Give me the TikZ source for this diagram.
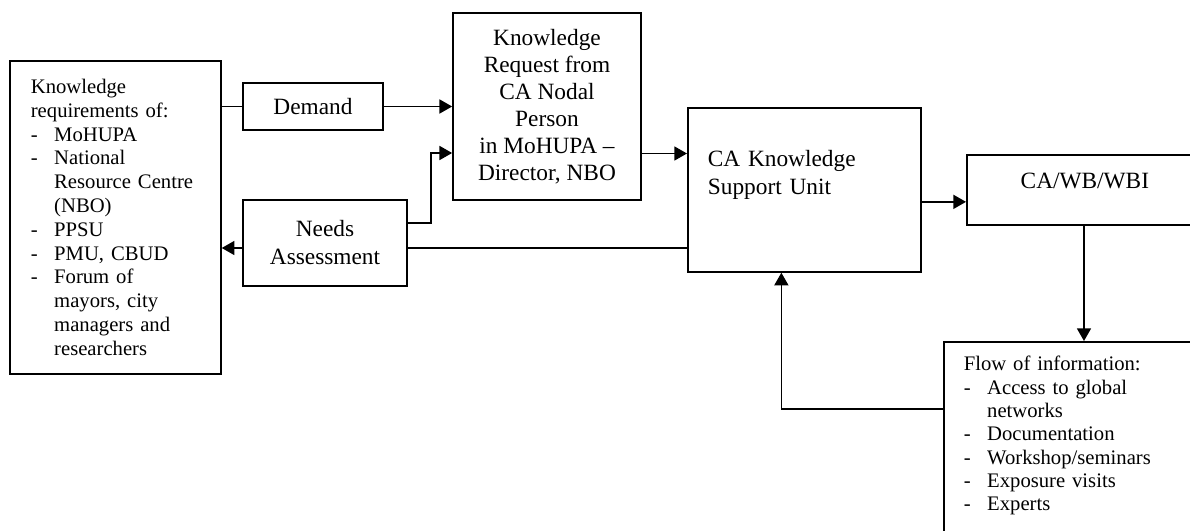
\documentclass[tikz,border=0pt]{standalone}
\usepackage{fontspec}
\setmainfont{Liberation Serif}
\usetikzlibrary{arrows.meta}
\newcommand\dashitem{\makebox[17.5pt][l]{-}}
\newcommand\contitem{\hspace*{17.5pt}}
\tikzset{
  box/.style={draw, line width=1.3pt, rectangle},
  conn/.style={line width=1.3pt},
  arr/.style={line width=1.3pt, -{Triangle[length=9.5pt,width=10.5pt]}},
}
\begin{document}
\begin{tikzpicture}[x=0.75pt,y=-0.75pt]
\useasboundingbox (0,0) rectangle (1190,531);
\clip (0,0) rectangle (1190,531);
% boxes
\node[box, anchor=north west, text width=126.75pt, inner xsep=15.75pt, minimum height=234.75pt,
  align=left, font=\fontsize{15.5pt}{17.85pt}\selectfont] (L) at (9,60)
  {Knowledge\\
   requirements of:\\
   \dashitem MoHUPA\\
   \dashitem National\\
   \contitem Resource Centre\\
   \contitem (NBO)\\
   \dashitem PPSU\\
   \dashitem PMU, CBUD\\
   \dashitem Forum of\\
   \contitem mayors, city\\
   \contitem managers and\\
   \contitem researchers};
\node[box, minimum width=105pt, minimum height=35.25pt, inner sep=0pt,
  font=\fontsize{17.5pt}{20pt}\selectfont] (D) at (313,106.5) {Demand};
\node[box, minimum width=123pt, minimum height=64.5pt, inner sep=0pt, align=center,
  font=\fontsize{17.5pt}{21pt}\selectfont] (N) at (325,243) {Needs\\Assessment};
\node[box, minimum width=141pt, minimum height=140.25pt, inner sep=0pt, align=center,
  font=\fontsize{17.5pt}{20.25pt}\selectfont] (KR) at (547,106.5)
  {Knowledge\\Request from\\CA Nodal\\Person\\in MoHUPA --\\Director, NBO};
\node[box, anchor=north west, inner xsep=15pt, inner ysep=0pt, text width=144.75pt,
  text height=44.25pt, text depth=78.75pt, align=left,
  font=\fontsize{17.5pt}{21pt}\selectfont] (KSU) at (687,107)
  {CA Knowledge\\Support Unit};
\node[box, anchor=north west, inner sep=0pt, text width=177pt, align=center,
  text height=25.5pt, text depth=27pt,
  font=\fontsize{17.5pt}{20pt}\selectfont] (CW) at (966,154) {CA/WB/WBI};
\node[box, anchor=north west, inner xsep=15pt, inner ysep=0pt, text width=180pt,
  text height=21.75pt, text depth=150pt, align=left,
  font=\fontsize{15.5pt}{17.5pt}\selectfont] (F) at (943,341)
  {Flow of information:\\
   \dashitem Access to global\\
   \contitem networks\\
   \dashitem Documentation\\
   \dashitem Workshop/seminars\\
   \dashitem Exposure visits\\
   \dashitem Experts};
% connectors
\draw[conn] (D.west -| L.east) -- (D.west);
\draw[arr] (D.east) -- (D.east -| KR.west);
\draw[arr] ([yshift=15pt]N.east) -- ++(23,0) |- ([yshift=-34.875pt]KR.west);
\draw[arr] ([yshift=-3.75pt]N.west) -- ([yshift=-3.75pt]N.west -| L.east);
\draw[conn] ([yshift=-3.75pt]N.east) -- ([yshift=-3.75pt]N.east -| KSU.west);
\draw[arr] ([yshift=-35.25pt]KR.east) -- ([yshift=-35.25pt]KR.east -| KSU.west);
\draw[arr] ([yshift=-9pt]CW.west -| KSU.east) -- ([yshift=-9pt]CW.west);
\draw[arr] (CW.south -| 1084,0) -- (F.north -| 1084,0);
\draw[arr] ([yshift=-51pt]F.north west) -| ([xshift=-17.25pt]KSU.south);
\end{tikzpicture}
\end{document}
